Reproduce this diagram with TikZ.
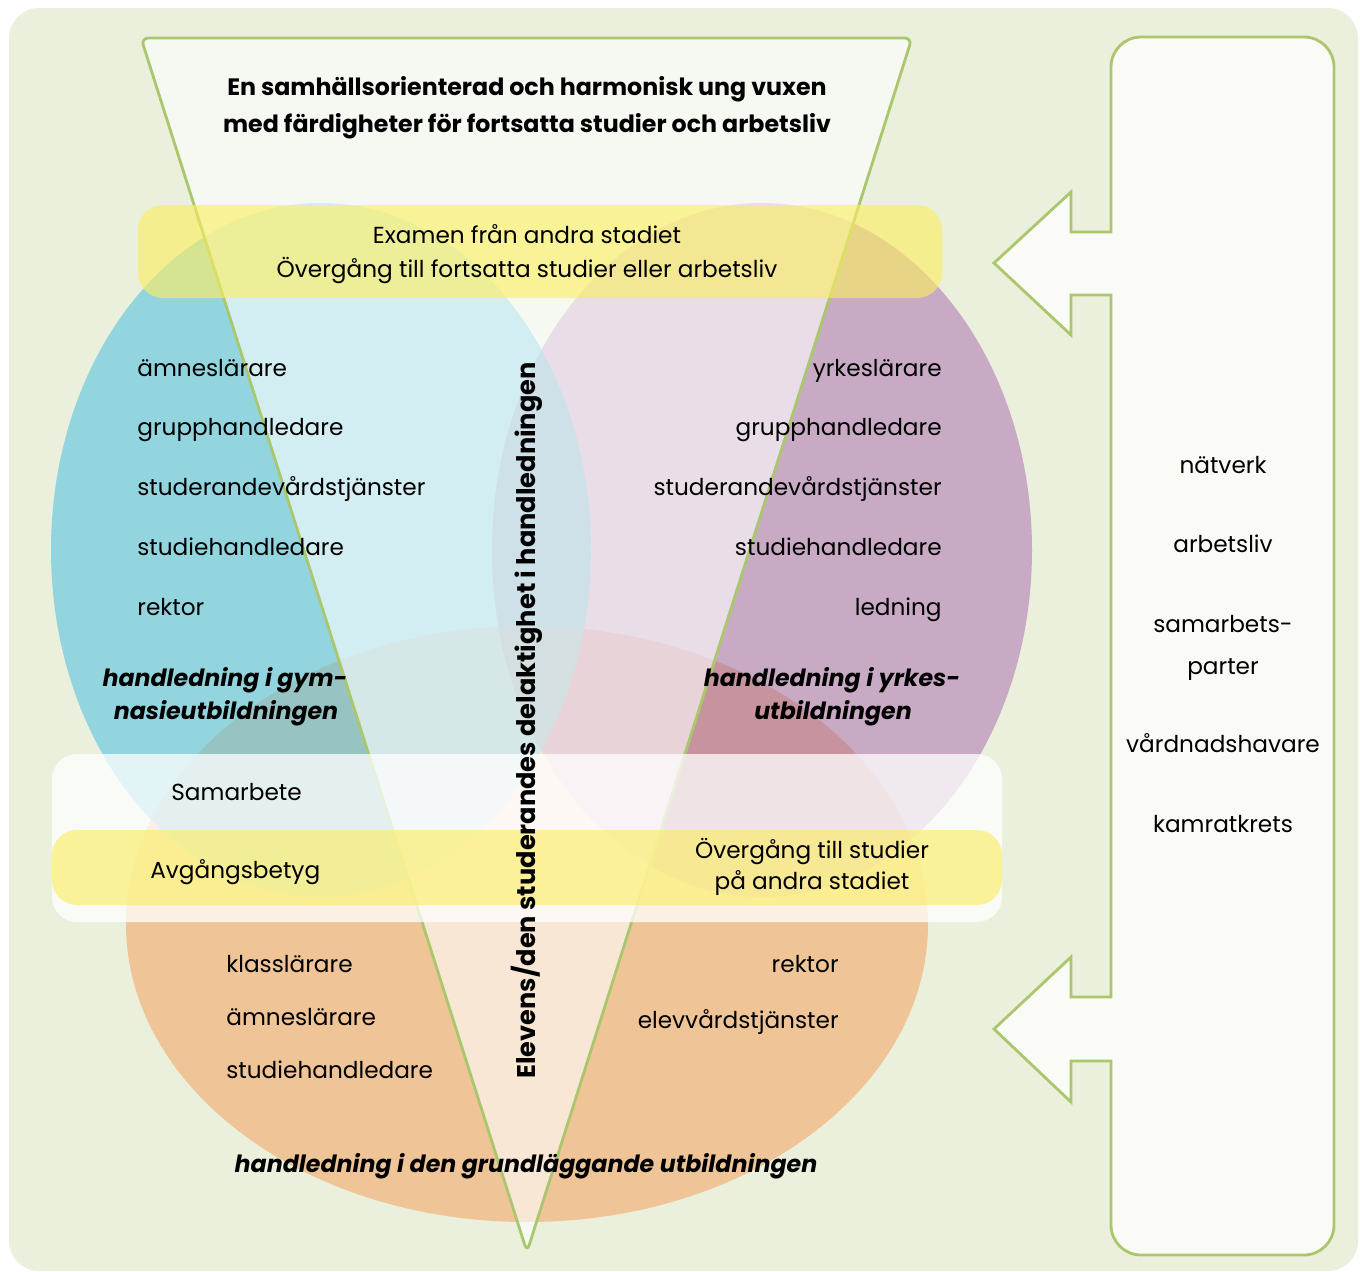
\documentclass[tikz,border=0pt]{standalone}
\usepackage{fontspec}
\setmainfont{Poppins}
\usetikzlibrary{positioning}

\definecolor{bgGreen}{HTML}{EAF0DC}
\definecolor{boxWhite}{HTML}{FAFBF6}
\definecolor{lineGreen}{HTML}{AAC76E}
\definecolor{blueC}{HTML}{93D5DF}
\definecolor{purpleC}{HTML}{C8AAC5}
\definecolor{orangeC}{HTML}{EFC496}
\definecolor{blueOrange}{HTML}{97C3C3}
\definecolor{purpleOrange}{HTML}{C7939E}
\definecolor{bluePurple}{HTML}{86B4C9}
\definecolor{allThree}{HTML}{91B0B6}
\definecolor{bandYellow}{HTML}{FCEE61}

\begin{document}
\begin{tikzpicture}[x=0.02cm, y=-0.02cm]
	\tikzset{
		Txt/.style = {inner sep=0pt, font=\fontsize{13.2}{16}\selectfont},
		ItemLeft/.style = {Txt, anchor=base west},
		ItemRight/.style = {Txt, anchor=base east},
		ItemMid/.style = {Txt, anchor=base},
		Heading/.style = {ItemMid, font=\fontsize{13.5}{16}\selectfont\bfseries\itshape},
		Goal/.style = {ItemMid, font=\fontsize{13.5}{16}\selectfont\bfseries},
		Band/.style = {rounded corners=0.5cm},
		Outline/.style = {draw=lineGreen, line width=1.6pt}
	}
	\useasboundingbox (0,0) rectangle (1360,1272);
	\fill[bgGreen, rounded corners=0.6cm] (9,8) rectangle (1358,1271);

	% circles
	\fill[orangeC] (527,924) ellipse [x radius=401, y radius=298];
	\fill[blueC] (321,550) ellipse [x radius=270, y radius=347];
	\fill[purpleC] (762,550) ellipse [x radius=270, y radius=347];
	\begin{scope}
		\clip (321,550) ellipse [x radius=270, y radius=347];
		\fill[blueOrange] (527,924) ellipse [x radius=401, y radius=298];
		\fill[bluePurple] (762,550) ellipse [x radius=270, y radius=347];
		\clip (527,924) ellipse [x radius=401, y radius=298];
		\fill[allThree] (762,550) ellipse [x radius=270, y radius=347];
	\end{scope}
	\begin{scope}
		\clip (762,550) ellipse [x radius=270, y radius=347];
		\fill[purpleOrange] (527,924) ellipse [x radius=401, y radius=298];
		\clip (527,924) ellipse [x radius=401, y radius=298];
		\fill[allThree] (321,550) ellipse [x radius=270, y radius=347];
	\end{scope}

	% triangle
	\path[Outline, fill=white, fill opacity=0.6, rounded corners=0.15cm]
		(141,38) -- (912,38) -- (527,1252) -- cycle;

	% bands
	\fill[white, opacity=0.75, Band] (52,754) rectangle (1002,922);
	\fill[bandYellow, opacity=0.62, Band] (138,205) rectangle (942,298);
	\fill[bandYellow, opacity=0.62, Band] (52,830) rectangle (1002,905);

	% network box
	\path[Outline, fill=boxWhite]
		(1111,140) [rounded corners=0.6cm] -- (1111,37) -- (1334,37) -- (1334,1255) -- (1111,1255) -- (1111,1150)
		[sharp corners] -- (1111,1061) -- (1071,1061) -- (1071,1102) -- (994,1029) -- (1071,957) -- (1071,997)
		-- (1111,997) -- (1111,295) -- (1071,295) -- (1071,335) -- (994,263) -- (1071,192) -- (1071,232)
		-- (1111,232) -- cycle;

	% texts
	\node[Goal] (goalA) at (527,95) {En samhällsorienterad och harmonisk ung vuxen};
	\node[Goal] (goalB) at (527,132) {med färdigheter för fortsatta studier och arbetsliv};
	\node[ItemMid] (examA) at (527,243) {Examen från andra stadiet};
	\node[ItemMid] (examB) at (527,277) {Övergång till fortsatta studier eller arbetsliv};

	\node[ItemLeft] (gymA) at (137,376) {ämneslärare};
	\node[ItemLeft, below=1.2cm of gymA.base west, anchor=base west] (gymB) {grupphandledare};
	\node[ItemLeft, below=1.2cm of gymB.base west, anchor=base west] (gymC) {studerandevårdstjänster};
	\node[ItemLeft, below=1.2cm of gymC.base west, anchor=base west] (gymD) {studiehandledare};
	\node[ItemLeft, below=1.2cm of gymD.base west, anchor=base west] (gymE) {rektor};
	\node[Heading] (gymH) at (225,686) {handledning i gym-};
	\node[Heading] (gymI) at (226,719) {nasieutbildningen};

	\node[ItemRight] (yrkA) at (942,376) {yrkeslärare};
	\node[ItemRight, below=1.2cm of yrkA.base east, anchor=base east] (yrkB) {grupphandledare};
	\node[ItemRight, below=1.2cm of yrkB.base east, anchor=base east] (yrkC) {studerandevårdstjänster};
	\node[ItemRight, below=1.2cm of yrkC.base east, anchor=base east] (yrkD) {studiehandledare};
	\node[ItemRight, below=1.2cm of yrkD.base east, anchor=base east] (yrkE) {ledning};
	\node[Heading] (yrkH) at (832,686) {handledning i yrkes-};
	\node[Heading] (yrkI) at (833,719) {utbildningen};

	\node[ItemLeft] (samarb) at (171,800) {Samarbete};
	\node[ItemLeft] (avgang) at (150,878) {Avgångsbetyg};
	\node[ItemMid] (overA) at (812,858) {Övergång till studier};
	\node[ItemMid] (overB) at (812,889) {på andra stadiet};

	\node[ItemLeft] (grundA) at (226,972) {klasslärare};
	\node[ItemLeft, below=1.07cm of grundA.base west, anchor=base west] (grundB) {ämneslärare};
	\node[ItemLeft, below=1.07cm of grundB.base west, anchor=base west] (grundC) {studiehandledare};
	\node[ItemRight] (grundD) at (839,972) {rektor};
	\node[ItemRight, below=1.12cm of grundD.base east, anchor=base east] (grundE) {elevvårdstjänster};
	\node[Heading] (grundH) at (526,1172) {handledning i den grundläggande utbildningen};

	\node[Goal, font=\fontsize{14.6}{16}\selectfont\bfseries, rotate=90, anchor=base west] (delakt) at (535,1079) {Elevens/den studerandes delaktighet i handledningen};

	\node[ItemMid] (natA) at (1223,473) {nätverk};
	\node[ItemMid, below=1.6cm of natA.base, anchor=base] (natB) {arbetsliv};
	\node[ItemMid, below=1.6cm of natB.base, anchor=base] (natC) {samarbets-};
	\node[ItemMid, below=0.84cm of natC.base, anchor=base] (natD) {parter};
	\node[ItemMid, below=1.56cm of natD.base, anchor=base] (natE) {vårdnadshavare};
	\node[ItemMid, below=1.6cm of natE.base, anchor=base] (natF) {kamratkrets};
\end{tikzpicture}
\end{document}
